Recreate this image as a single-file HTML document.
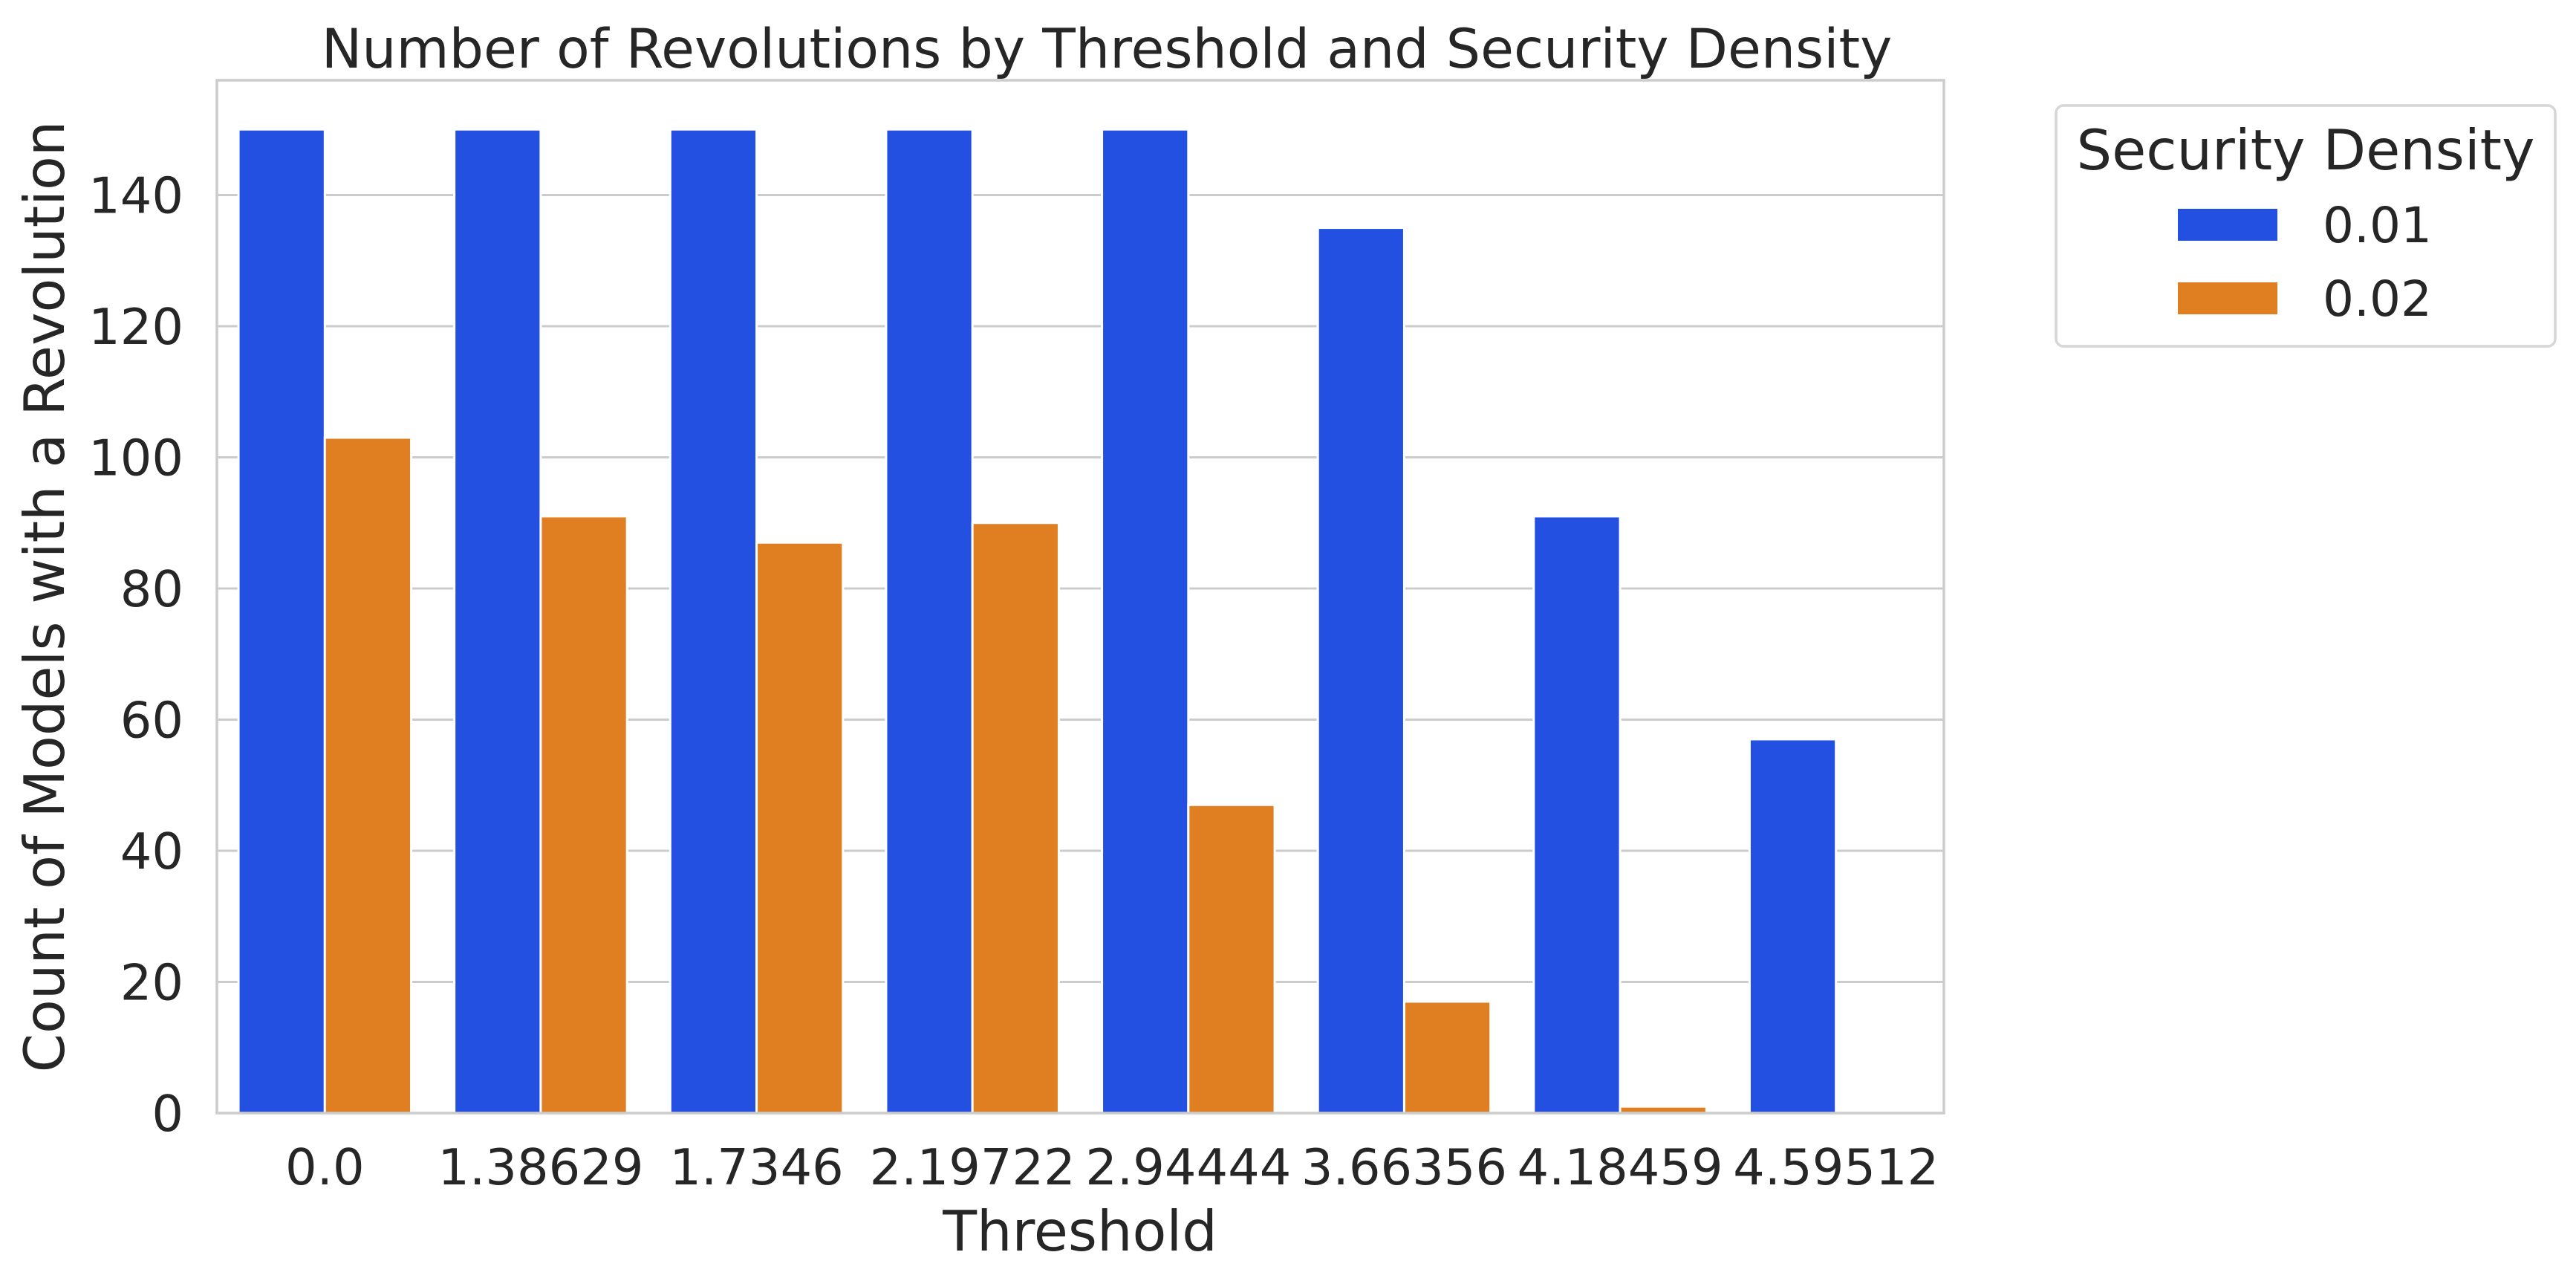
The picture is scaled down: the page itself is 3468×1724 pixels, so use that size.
<!DOCTYPE html>
<html><head><meta charset="utf-8"><style>
html,body{margin:0;padding:0;background:#fff;}
svg{display:block;font-family:"DejaVu Sans","Liberation Sans",sans-serif;}
</style></head><body>
<svg id="chart" width="3468" height="1724" viewBox="0 0 3468 1724" xmlns="http://www.w3.org/2000/svg">
<rect x="0" y="0" width="3468" height="1724" fill="#fff"/>
<text x="1490" y="91" text-anchor="middle" font-size="73" fill="#262626">Number of Revolutions by Threshold and Security Density</text>
<g id="grid"></g>
<g id="bars"></g>
<rect x="292" y="108" width="2325" height="1390" fill="none" stroke="#cccccc" stroke-width="3.5"/>
<g id="yticks"></g>
<g id="xticks"></g>
<text transform="translate(86,803) rotate(-90)" text-anchor="middle" font-size="75" fill="#262626">Count of Models with a Revolution</text>
<text x="1454" y="1683" text-anchor="middle" font-size="75" fill="#262626">Threshold</text>
<g>
<rect x="2768" y="142" width="672" height="324" rx="10" fill="#fff" stroke="#d6d6d6" stroke-width="3.5"/>
<text x="3104" y="228" text-anchor="middle" font-size="75" fill="#262626">Security Density</text>
<rect x="2932" y="281" width="134" height="43" fill="#2350e0"/>
<text x="3127" y="326" font-size="66" fill="#262626">0.01</text>
<rect x="2932" y="380" width="134" height="43" fill="#e07e22"/>
<text x="3127" y="425" font-size="66" fill="#262626">0.02</text>
</g>
</svg>
<script>
const categories = ["0.0","1.38629","1.7346","2.19722","2.94444","3.66356","4.18459","4.59512"];
const series001 = [150,150,150,150,150,135,91,57];
const series002 = [103,91,87,90,47,17,1,0];
const yTicks = [0,20,40,60,80,100,120,140];
const yMax = 157.5;

const NS = "http://www.w3.org/2000/svg";
const L = 292, R = 2617, T = 108, B = 1498;
function yScale(v){ return B - (v / yMax) * (B - T); }
const band = (R - L) / categories.length;
function xCenter(i){ return L + band * (i + 0.5); }
function mk(tag, attrs){ const e = document.createElementNS(NS, tag); for (const k in attrs) e.setAttribute(k, attrs[k]); return e; }

const grid = document.getElementById('grid');
const yt = document.getElementById('yticks');
yTicks.forEach(t => {
  const y = yScale(t);
  const ln = mk('line', {x1: L, x2: R, y1: y, y2: y, stroke: '#cccccc', 'stroke-width': 3});
  
  
  grid.appendChild(ln);
  const tx = mk('text', {x: 247, y: y + 24, 'text-anchor': 'end', 'font-size': 67, fill: '#262626'});
  tx.textContent = t;
  
  
  yt.appendChild(tx);
});

const bars = document.getElementById('bars');
const xt = document.getElementById('xticks');
const bw = band * 0.4;
categories.forEach((c, i) => {
  const cx = xCenter(i);
  const v1 = series001[i], v2 = series002[i];
  const b1 = mk('rect', {x: cx - bw, y: yScale(v1), width: bw, height: B - yScale(v1), fill: '#2350e0', stroke: '#fff', 'stroke-width': 3});
  
  
  bars.appendChild(b1);
  const b2 = mk('rect', {x: cx, y: yScale(v2), width: bw, height: B - yScale(v2), fill: '#e07e22', stroke: '#fff', 'stroke-width': 3});
  
  
  bars.appendChild(b2);
  const tx = mk('text', {x: cx, y: 1594, 'text-anchor': 'middle', 'font-size': 67, fill: '#262626'});
  tx.textContent = c;
  
  
  xt.appendChild(tx);
});
</script>
</body></html>
